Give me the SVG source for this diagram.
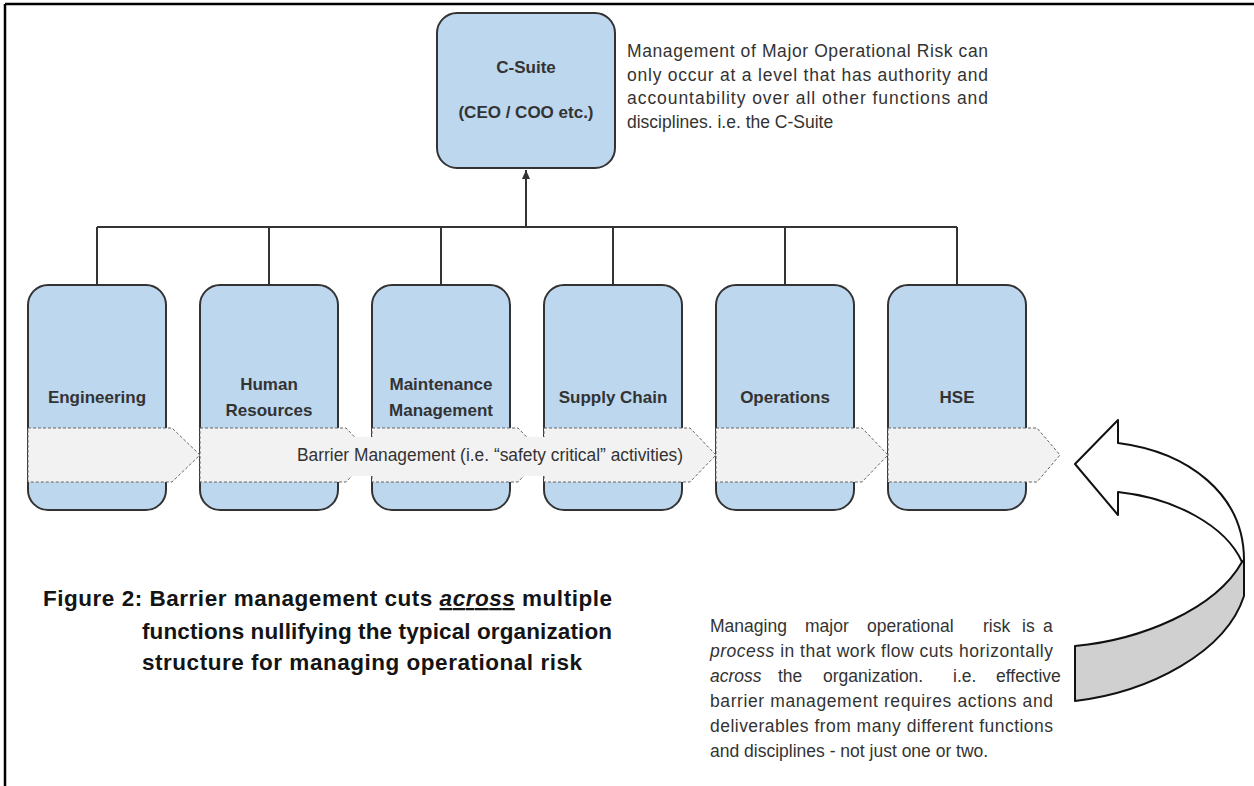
<svg xmlns="http://www.w3.org/2000/svg" width="1254" height="786" viewBox="0 0 1254 786">
<style>
.frame{stroke:#000;stroke-width:2.5;fill:none}
.box{fill:#bdd7ee;stroke:#333;stroke-width:2}
.band{fill:#f2f2f2;stroke:#666;stroke-width:1;stroke-dasharray:3 2}
.conn{stroke:#333;stroke-width:2;fill:none}
.lbl{font-family:"Liberation Sans",Arial,sans-serif;font-weight:bold;font-size:17px;fill:#333;text-anchor:middle}
.body{font-family:"Liberation Sans",Arial,sans-serif;font-size:17.5px;fill:#333}
.cap{font-family:"Liberation Sans",Arial,sans-serif;font-weight:bold;font-size:22.5px;fill:#141414}
.it{font-style:italic}
.arrow3d{stroke:#111;stroke-width:2;stroke-linejoin:round}
</style>
<defs>
<marker id="ah" markerUnits="userSpaceOnUse" markerWidth="10" markerHeight="10" refX="9" refY="5" orient="auto">
<path d="M0,1 L9,5 L0,9 z" fill="#333"/>
</marker>
</defs>
<rect width="1254" height="786" fill="#fff"/>
<g id="frame">
<line class="frame" x1="5" y1="4" x2="1254" y2="4"/>
<line class="frame" x1="5" y1="4" x2="5" y2="786"/>
</g>
<g id="connectors">
<line class="conn" x1="97" y1="227" x2="957" y2="227"/>
<line class="conn" x1="97" y1="227" x2="97" y2="285"/>
<line class="conn" x1="269" y1="227" x2="269" y2="285"/>
<line class="conn" x1="441" y1="227" x2="441" y2="285"/>
<line class="conn" x1="613" y1="227" x2="613" y2="285"/>
<line class="conn" x1="785" y1="227" x2="785" y2="285"/>
<line class="conn" x1="957" y1="227" x2="957" y2="285"/>
<line class="conn" x1="526" y1="227" x2="526" y2="170" marker-end="url(#ah)"/>
</g>
<g id="csuite">
<rect class="box" x="437" y="13" width="178" height="155" rx="20"/>
<text class="lbl" x="526" y="73">C-Suite</text>
<text class="lbl" x="526" y="118">(CEO / COO etc.)</text>
</g>
<g id="engineering">
<rect class="box" x="28" y="285" width="138" height="225" rx="20"/>
<text class="lbl" x="97" y="403">Engineering</text>
</g>
<g id="human-resources">
<rect class="box" x="200" y="285" width="138" height="225" rx="20"/>
<text class="lbl" x="269" y="390">Human</text>
<text class="lbl" x="269" y="416">Resources</text>
</g>
<g id="maintenance">
<rect class="box" x="372" y="285" width="138" height="225" rx="20"/>
<text class="lbl" x="441" y="390">Maintenance</text>
<text class="lbl" x="441" y="416">Management</text>
</g>
<g id="supply-chain">
<rect class="box" x="544" y="285" width="138" height="225" rx="20"/>
<text class="lbl" x="613" y="403">Supply Chain</text>
</g>
<g id="operations">
<rect class="box" x="716" y="285" width="138" height="225" rx="20"/>
<text class="lbl" x="785" y="403">Operations</text>
</g>
<g id="hse">
<rect class="box" x="888" y="285" width="138" height="225" rx="20"/>
<text class="lbl" x="957" y="403">HSE</text>
</g>
<g id="barrier-band">
<path class="band" d="M28,428 H172 L200,455 L172,482 H28 Z"/>
<path class="band" d="M200,428 H346 L372,455 L346,482 H200 Z"/>
<path class="band" d="M372,428 H518 L544,455 L518,482 H372 Z"/>
<path class="band" d="M544,428 H690 L716,455 L690,482 H544 Z"/>
<path class="band" d="M716,428 H862 L888,455 L862,482 H716 Z"/>
<path class="band" d="M888,428 H1037 L1060,455 L1037,482 H888 Z"/>
<rect x="294" y="437" width="393" height="39" fill="#f2f2f2"/>
<text class="body" x="297" y="461" textLength="386" lengthAdjust="spacingAndGlyphs">Barrier Management (i.e. “safety critical” activities)</text>
</g>
<g id="curved-arrow">
<path class="arrow3d" fill="#d0d0d0" d="M1242,562 C1215,610 1140,640 1075,646 L1075,701 C1150,692 1226,652 1244,596 L1244,560 Z"/>
<path class="arrow3d" fill="#fff" d="M1118,443 C1188,452 1244,494 1244,560 L1242,562 C1226,526 1175,498 1118,492 L1118,515 L1075,464 L1118,420 Z"/>
</g>
<g id="note-top">
<text class="body" x="627" y="57" textLength="361" lengthAdjust="spacing">Management of Major Operational Risk can</text>
<text class="body" x="627" y="81" textLength="361" lengthAdjust="spacing">only occur at a level that has authority and</text>
<text class="body" x="627" y="104" textLength="361" lengthAdjust="spacing">accountability over all other functions and</text>
<text class="body" x="627" y="128">disciplines. i.e. the C-Suite</text>
</g>
<g id="note-bottom">
<text class="body" y="632"><tspan x="710">Managing</tspan><tspan x="805">major</tspan><tspan x="867">operational</tspan><tspan x="983">risk</tspan><tspan x="1022">is</tspan><tspan x="1043">a</tspan></text>
<text class="body" x="710" y="657" textLength="343" lengthAdjust="spacing"><tspan class="it">process</tspan> in that work flow cuts horizontally</text>
<text class="body" y="682"><tspan class="it" x="710">across</tspan><tspan x="778">the</tspan><tspan x="823">organization.</tspan><tspan x="953">i.e.</tspan><tspan x="996">effective</tspan></text>
<text class="body" x="710" y="707" textLength="343" lengthAdjust="spacing">barrier management requires actions and</text>
<text class="body" x="710" y="732" textLength="343" lengthAdjust="spacing">deliverables from many different functions</text>
<text class="body" x="710" y="757">and disciplines - not just one or two.</text>
</g>
<g id="caption">
<text class="cap" x="43" y="606" textLength="569" lengthAdjust="spacing">Figure 2: Barrier management cuts <tspan class="it" text-decoration="underline">across</tspan> multiple</text>
<text class="cap" x="142" y="639" textLength="470" lengthAdjust="spacing">functions nullifying the typical organization</text>
<text class="cap" x="142" y="670" textLength="440" lengthAdjust="spacing">structure for managing operational risk</text>
</g>
</svg>
